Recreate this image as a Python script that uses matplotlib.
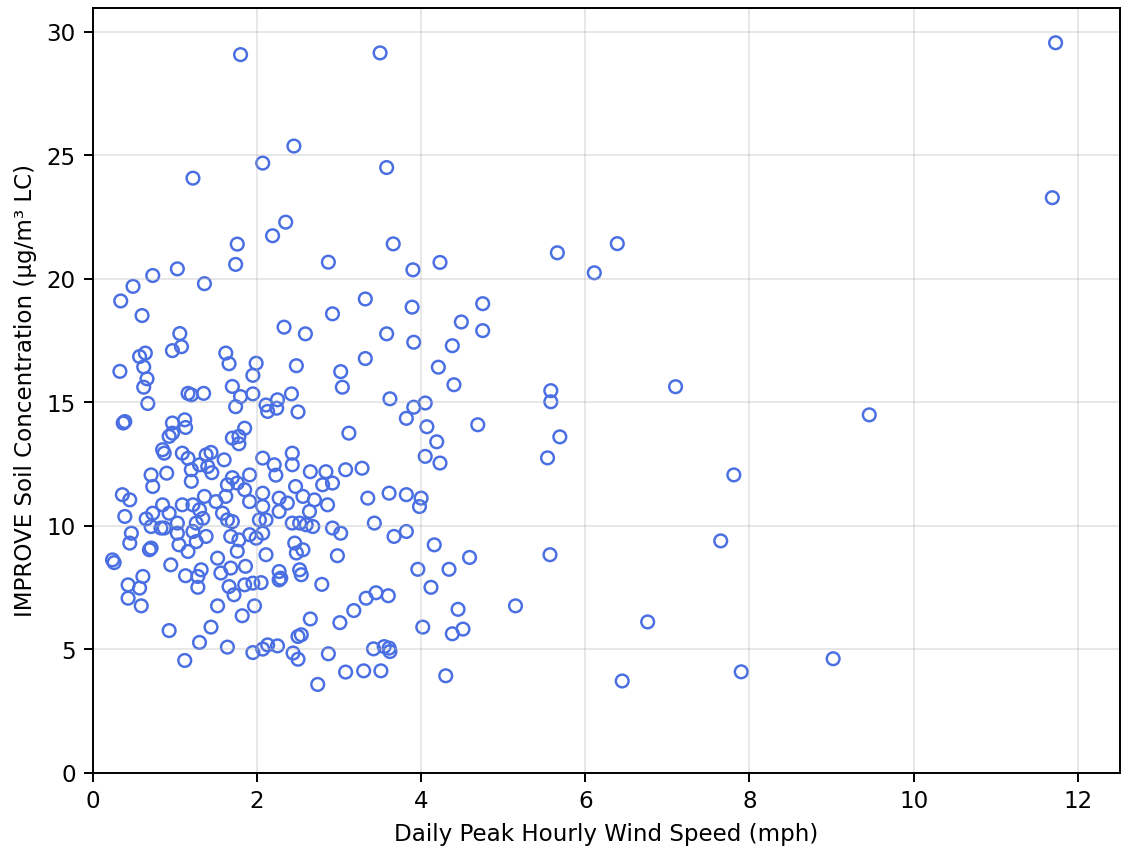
import numpy as np
import matplotlib.pyplot as plt

# daily peak hourly wind speed (mph) and soil concentration (ug/m3 LC)
wind = [
    1.80, 3.50, 11.73, 11.69, 1.22, 2.07, 2.45, 3.58, 2.35, 2.19,
    1.76, 1.74, 2.87, 3.66, 3.90, 4.23, 5.66, 6.39, 6.11, 0.34,
    0.49, 0.73, 1.03, 1.36, 3.32, 4.75, 3.89, 2.92, 0.60, 4.49,
    2.33, 4.75, 2.59, 3.58, 1.06, 1.08, 0.97, 4.38, 3.91, 3.32,
    0.57, 0.64, 1.62, 1.66, 1.99, 0.62, 2.48, 4.21, 0.33, 3.02,
    1.95, 0.66, 0.62, 3.04, 1.70, 4.40, 7.10, 5.58, 1.16, 1.20,
    1.35, 1.80, 1.95, 2.42, 3.62, 5.58, 0.67, 1.74, 2.11, 2.13,
    2.25, 2.24, 2.50, 3.91, 4.05, 3.82, 4.07, 4.69, 9.46, 0.37,
    0.39, 0.97, 1.12, 1.13, 0.93, 0.97, 1.85, 1.78, 1.70, 1.78,
    3.12, 4.19, 5.69, 0.85, 0.87, 1.09, 1.16, 1.38, 1.44, 1.40,
    1.60, 1.30, 1.45, 2.07, 2.21, 2.43, 2.43, 4.05, 4.23, 5.54,
    0.71, 0.90, 1.20, 1.20, 2.23, 1.91, 1.70, 2.65, 2.84, 3.08,
    3.28, 7.81, 0.73, 0.36, 0.45, 1.64, 1.76, 1.85, 1.91, 2.07,
    2.27, 2.37, 2.47, 2.56, 2.70, 2.80, 2.92, 2.86, 3.35, 3.61,
    3.82, 4.00, 3.98, 0.85, 1.09, 1.22, 1.30, 1.36, 1.50, 1.62,
    2.07, 2.27, 2.64, 0.39, 0.65, 0.73, 0.93, 1.58, 1.64, 1.70,
    2.11, 2.03, 1.34, 1.26, 1.03, 2.43, 2.52, 2.60, 2.68, 3.43,
    0.71, 0.83, 0.87, 2.92, 1.22, 1.03, 1.91, 2.07, 3.82, 3.02,
    1.38, 1.68, 3.67, 0.47, 0.45, 1.99, 1.78, 7.65, 1.26, 1.05,
    2.46, 4.16, 0.71, 0.69, 1.16, 2.56, 1.76, 2.48, 2.11, 2.98,
    5.57, 4.59, 1.52, 0.24, 0.26, 0.95, 1.86, 1.68, 1.32, 2.52,
    3.96, 4.34, 2.27, 1.56, 2.54, 1.13, 1.28, 0.61, 2.29, 2.27,
    2.79, 1.85, 0.43, 1.66, 1.95, 2.05, 1.28, 0.57, 4.12, 1.72,
    3.45, 3.33, 3.60, 0.43, 0.59, 1.52, 1.97, 5.15, 4.45, 3.18,
    1.82, 2.65, 3.01, 6.76, 1.44, 4.02, 4.51, 0.93, 4.38, 2.54,
    2.50, 1.30, 2.13, 2.25, 3.55, 1.64, 2.07, 3.42, 3.61, 3.62,
    1.95, 2.44, 2.87, 2.50, 9.02, 1.12, 3.30, 3.51, 3.08, 7.90,
    4.30, 6.45, 2.74,
]
soil = [
    29.07, 29.14, 29.55, 23.28, 24.07, 24.68, 25.37, 24.50, 22.29, 21.74,
    21.40, 20.58, 20.67, 21.41, 20.36, 20.66, 21.05, 21.42, 20.24, 19.10,
    19.69, 20.13, 20.40, 19.80, 19.18, 18.99, 18.85, 18.58, 18.51, 18.25,
    18.04, 17.90, 17.77, 17.77, 17.78, 17.25, 17.09, 17.29, 17.43, 16.77,
    16.85, 16.99, 16.99, 16.56, 16.58, 16.43, 16.48, 16.42, 16.25, 16.24,
    16.09, 15.95, 15.61, 15.61, 15.64, 15.71, 15.63, 15.47, 15.36, 15.30,
    15.36, 15.23, 15.34, 15.34, 15.14, 15.02, 14.95, 14.82, 14.89, 14.63,
    15.10, 14.76, 14.61, 14.80, 14.97, 14.35, 14.01, 14.09, 14.49, 14.16,
    14.22, 14.16, 14.29, 13.98, 13.62, 13.75, 13.95, 13.62, 13.55, 13.32,
    13.75, 13.40, 13.60, 13.08, 12.94, 12.94, 12.73, 12.87, 12.97, 12.40,
    12.67, 12.47, 12.15, 12.74, 12.47, 12.94, 12.47, 12.81, 12.54, 12.75,
    12.06, 12.13, 12.27, 11.80, 12.05, 12.06, 11.95, 12.19, 12.19, 12.27,
    12.33, 12.06, 11.59, 11.26, 11.05, 11.66, 11.73, 11.46, 10.98, 11.32,
    11.12, 10.92, 11.59, 11.19, 11.05, 11.66, 11.73, 10.85, 11.12, 11.32,
    11.26, 11.12, 10.78, 10.85, 10.85, 10.85, 10.65, 11.19, 10.98, 11.19,
    10.78, 10.58, 10.58, 10.38, 10.28, 10.51, 10.51, 10.51, 10.24, 10.17,
    10.24, 10.24, 10.30, 10.11, 10.11, 10.11, 10.11, 10.04, 9.97, 10.11,
    9.97, 9.91, 9.91, 9.91, 9.77, 9.70, 9.64, 9.70, 9.77, 9.70,
    9.57, 9.57, 9.57, 9.70, 9.30, 9.50, 9.43, 9.39, 9.36, 9.23,
    9.30, 9.23, 9.10, 9.03, 8.96, 9.03, 8.97, 8.90, 8.83, 8.79,
    8.83, 8.72, 8.69, 8.62, 8.51, 8.42, 8.36, 8.29, 8.22, 8.22,
    8.24, 8.24, 8.15, 8.09, 8.02, 7.98, 7.95, 7.95, 7.88, 7.81,
    7.63, 7.61, 7.61, 7.54, 7.68, 7.70, 7.51, 7.48, 7.51, 7.21,
    7.29, 7.07, 7.17, 7.07, 6.76, 6.76, 6.76, 6.76, 6.62, 6.57,
    6.36, 6.23, 6.08, 6.11, 5.90, 5.90, 5.82, 5.76, 5.63, 5.59,
    5.52, 5.28, 5.18, 5.14, 5.11, 5.09, 5.01, 5.02, 5.05, 4.91,
    4.87, 4.85, 4.82, 4.60, 4.62, 4.55, 4.13, 4.13, 4.08, 4.09,
    3.93, 3.72, 3.58,
]

plt.rcParams['font.size'] = 9.4

fig = plt.figure(figsize=(6.4, 4.86), dpi=176)
ax = fig.add_axes([0.0824, 0.096, 0.9123, 0.8946])

ax.scatter(wind, soil, s=27, facecolors='none', edgecolors='#4a6fe3', linewidths=1.0)

ax.set_xlim(0, 12.52)
ax.set_ylim(0, 30.97)
ax.set_xlabel('Daily Peak Hourly Wind Speed (mph)')
ax.set_ylabel('IMPROVE Soil Concentration (μg/m³ LC)')
ax.grid(True, alpha=0.3)

fig.savefig('out.png', dpi=176)
